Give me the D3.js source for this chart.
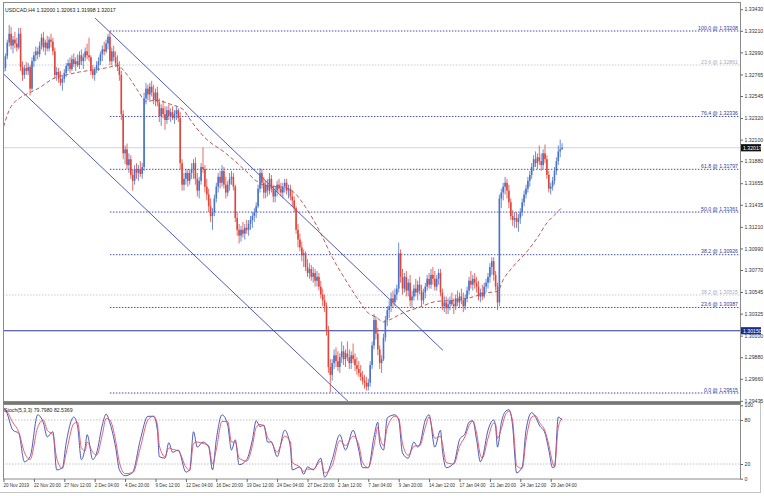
<!DOCTYPE html>
<html><head><meta charset="utf-8">
<script src="https://cdn.jsdelivr.net/npm/d3@7"></script>
<style>
body{margin:0;background:#fff}
svg{display:block}
text{font-family:"Liberation Sans",Arial,sans-serif}
</style>
</head><body>
<svg id="c" width="764" height="496"></svg>
<script>
// ---------- DATA ----------
const symbolTitle = "USDCAD,H4 1.32000 1.32063 1.31998 1.32017";
const stochTitle = "Stoch(5,3,3) 79.7980 82.5369";

// H4 candles [open, high, low, close], 20 Nov 2019 onward
const candlesA = [
[1.3279,1.3286,1.3275,1.3283],[1.3283,1.3298,1.3280,1.3295],[1.3295,1.3312,1.3292,1.3309],[1.3309,1.3327,1.3305,1.3318],
[1.3318,1.3325,1.3302,1.3306],[1.3306,1.3316,1.3298,1.3312],[1.3312,1.3320,1.3303,1.3308],[1.3308,1.3314,1.3300,1.3304],
[1.3304,1.3324,1.3302,1.3318],[1.3318,1.3324,1.3280,1.3284],[1.3284,1.3290,1.3270,1.3276],[1.3276,1.3286,1.3272,1.3283],
[1.3283,1.3289,1.3276,1.3280],[1.3280,1.3288,1.3276,1.3284],[1.3284,1.3286,1.3255,1.3262],[1.3262,1.3294,1.3260,1.3290],
[1.3290,1.3300,1.3284,1.3296],[1.3296,1.3305,1.3290,1.3300],[1.3300,1.3304,1.3292,1.3297],[1.3297,1.3310,1.3294,1.3306],
[1.3306,1.3318,1.3302,1.3314],[1.3314,1.3320,1.3300,1.3304],[1.3304,1.3312,1.3296,1.3309],[1.3309,1.3316,1.3300,1.3303],
[1.3303,1.3315,1.3300,1.3312],[1.3312,1.3318,1.3304,1.3310],[1.3310,1.3314,1.3296,1.3300],[1.3300,1.3304,1.3272,1.3276],
[1.3276,1.3284,1.3270,1.3279],[1.3279,1.3283,1.3268,1.3272],[1.3272,1.3280,1.3265,1.3268],[1.3268,1.3276,1.3260,1.3272],
[1.3272,1.3282,1.3268,1.3278],[1.3278,1.3288,1.3274,1.3285],[1.3285,1.3292,1.3280,1.3288],[1.3288,1.3294,1.3278,1.3282],
[1.3282,1.3296,1.3280,1.3292],[1.3292,1.3298,1.3284,1.3287],[1.3287,1.3294,1.3280,1.3290],[1.3290,1.3297,1.3284,1.3286],
[1.3286,1.3300,1.3282,1.3296],[1.3296,1.3302,1.3286,1.3290],[1.3290,1.3298,1.3282,1.3294],[1.3294,1.3304,1.3290,1.3300],
[1.3300,1.3308,1.3292,1.3296],[1.3296,1.3314,1.3290,1.3294],[1.3294,1.3296,1.3276,1.3280],[1.3280,1.3286,1.3272,1.3276],
[1.3276,1.3284,1.3270,1.3282],[1.3282,1.3290,1.3278,1.3286],[1.3286,1.3294,1.3280,1.3290],[1.3290,1.3300,1.3286,1.3297],
[1.3297,1.3306,1.3290,1.3302],[1.3302,1.3310,1.3296,1.3300],[1.3300,1.3312,1.3298,1.3308],[1.3308,1.3318,1.3302,1.3315],
[1.3315,1.3321,1.3286,1.3290],[1.3290,1.3304,1.3286,1.3300],[1.3300,1.3306,1.3290,1.3294],[1.3294,1.3300,1.3284,1.3288],
[1.3288,1.3296,1.3280,1.3284],[1.3284,1.3290,1.3270,1.3276],[1.3276,1.3280,1.3230,1.3236],[1.3236,1.3240,1.3190,1.3196],
[1.3196,1.3204,1.3185,1.3200],[1.3200,1.3206,1.3180,1.3184],[1.3184,1.3196,1.3176,1.3190],[1.3190,1.3194,1.3170,1.3174],
[1.3174,1.3180,1.3158,1.3168],[1.3168,1.3184,1.3164,1.3180],[1.3180,1.3186,1.3170,1.3176],[1.3176,1.3184,1.3168,1.3180],
[1.3180,1.3188,1.3172,1.3175],[1.3175,1.3186,1.3170,1.3182],[1.3182,1.3258,1.3178,1.3252],[1.3252,1.3268,1.3246,1.3262],
[1.3262,1.3266,1.3250,1.3256],[1.3256,1.3268,1.3250,1.3264],[1.3264,1.3270,1.3254,1.3258],[1.3258,1.3266,1.3246,1.3250],
[1.3250,1.3262,1.3244,1.3258],[1.3258,1.3264,1.3244,1.3248],[1.3248,1.3252,1.3228,1.3234],[1.3234,1.3246,1.3224,1.3242],
[1.3242,1.3250,1.3232,1.3236],[1.3236,1.3244,1.3220,1.3230],[1.3230,1.3244,1.3226,1.3240],[1.3240,1.3246,1.3230,1.3234],
[1.3234,1.3242,1.3228,1.3238],[1.3238,1.3244,1.3230,1.3232],[1.3232,1.3240,1.3226,1.3236],[1.3236,1.3244,1.3230,1.3240],
[1.3240,1.3242,1.3228,1.3232],[1.3232,1.3238,1.3180,1.3186],[1.3186,1.3190,1.3158,1.3164],[1.3164,1.3176,1.3158,1.3170],
[1.3170,1.3180,1.3164,1.3176],[1.3176,1.3180,1.3162,1.3168],[1.3168,1.3180,1.3164,1.3176]
];
const candlesB = [
[1.3176,1.3186,1.3170,1.3180],[1.3180,1.3190,1.3170,1.3186],[1.3186,1.3192,1.3164,1.3170],[1.3170,1.3176,1.3152,1.3158],
[1.3158,1.3172,1.3150,1.3168],[1.3168,1.3186,1.3164,1.3182],[1.3182,1.3202,1.3176,1.3180],[1.3180,1.3184,1.3156,1.3162],
[1.3162,1.3170,1.3148,1.3154],[1.3154,1.3160,1.3136,1.3142],[1.3142,1.3150,1.3126,1.3132],[1.3132,1.3140,1.3118,1.3136],
[1.3136,1.3154,1.3132,1.3150],[1.3150,1.3166,1.3146,1.3162],[1.3162,1.3176,1.3156,1.3172],[1.3172,1.3178,1.3160,1.3166],
[1.3166,1.3184,1.3162,1.3178],[1.3178,1.3182,1.3160,1.3164],[1.3164,1.3172,1.3150,1.3156],[1.3156,1.3168,1.3152,1.3164],
[1.3164,1.3176,1.3158,1.3170],[1.3170,1.3178,1.3164,1.3172],[1.3172,1.3176,1.3158,1.3162],[1.3162,1.3164,1.3126,1.3130],
[1.3130,1.3136,1.3112,1.3118],[1.3118,1.3124,1.3104,1.3112],[1.3112,1.3122,1.3106,1.3118],[1.3118,1.3126,1.3110,1.3114],
[1.3114,1.3124,1.3108,1.3120],[1.3120,1.3128,1.3114,1.3118],[1.3118,1.3128,1.3112,1.3124],[1.3124,1.3132,1.3118,1.3128],
[1.3128,1.3136,1.3120,1.3132],[1.3132,1.3140,1.3126,1.3136],[1.3136,1.3146,1.3130,1.3142],[1.3142,1.3164,1.3140,1.3160],
[1.3160,1.3181,1.3156,1.3176],[1.3176,1.3180,1.3160,1.3166],[1.3166,1.3172,1.3150,1.3156],[1.3156,1.3168,1.3150,1.3164],
[1.3164,1.3170,1.3152,1.3158],[1.3158,1.3176,1.3154,1.3170],[1.3170,1.3174,1.3156,1.3160],[1.3160,1.3164,1.3146,1.3152],
[1.3152,1.3162,1.3146,1.3158],[1.3158,1.3168,1.3152,1.3164],[1.3164,1.3170,1.3156,1.3160],[1.3160,1.3166,1.3152,1.3156],
[1.3156,1.3166,1.3150,1.3162],[1.3162,1.3170,1.3156,1.3166],[1.3166,1.3170,1.3154,1.3158],[1.3158,1.3164,1.3150,1.3160],
[1.3160,1.3164,1.3148,1.3152],[1.3152,1.3158,1.3142,1.3148],[1.3148,1.3152,1.3136,1.3140],[1.3140,1.3142,1.3114,1.3118],
[1.3118,1.3124,1.3100,1.3108],[1.3108,1.3114,1.3096,1.3100],[1.3100,1.3106,1.3086,1.3092],[1.3092,1.3098,1.3080,1.3094],
[1.3094,1.3096,1.3076,1.3080],[1.3080,1.3088,1.3070,1.3074],[1.3074,1.3084,1.3068,1.3078],[1.3078,1.3082,1.3066,1.3070],
[1.3070,1.3080,1.3064,1.3074],[1.3074,1.3078,1.3060,1.3066],[1.3066,1.3076,1.3060,1.3070],[1.3070,1.3074,1.3056,1.3060],
[1.3060,1.3066,1.3048,1.3052],[1.3052,1.3058,1.3040,1.3046],[1.3046,1.3052,1.3034,1.3040],[1.3040,1.3044,1.3010,1.3016],
[1.3016,1.3020,1.2972,1.2978],[1.2978,1.2986,1.2952,1.2970],[1.2970,1.2986,1.2964,1.2982],[1.2982,1.2996,1.2976,1.2990],
[1.2990,1.2998,1.2978,1.2984],[1.2984,1.2994,1.2974,1.2978],[1.2978,1.2992,1.2972,1.2988],[1.2988,1.3004,1.2982,1.2994],
[1.2994,1.3000,1.2980,1.2986],[1.2986,1.2996,1.2978,1.2992],[1.2992,1.3004,1.2984,1.2988],[1.2988,1.2996,1.2976,1.2982],
[1.2982,1.2994,1.2976,1.2990],[1.2990,1.3002,1.2982,1.2986],[1.2986,1.2992,1.2974,1.2980],[1.2980,1.2988,1.2970,1.2976],
[1.2976,1.2984,1.2968,1.2972],[1.2972,1.2980,1.2964,1.2968],[1.2968,1.2974,1.2960,1.2964],[1.2964,1.2970,1.2956,1.2962],
[1.2962,1.2968,1.2954,1.2958],[1.2958,1.2966,1.2954,1.2962],[1.2962,1.2984,1.2958,1.2980],[1.2980,1.3004,1.2976,1.3000],
[1.3000,1.3032,1.2996,1.3026],[1.3026,1.3030,1.3006,1.3012]
];
const candlesC = [
[1.3012,1.3018,1.2990,1.2996],[1.2996,1.3000,1.2976,1.2982],[1.2982,1.2990,1.2972,1.2986],[1.2986,1.3012,1.2984,1.3008],
[1.3008,1.3030,1.3004,1.3026],[1.3026,1.3040,1.3020,1.3036],[1.3036,1.3046,1.3028,1.3040],[1.3040,1.3054,1.3034,1.3048],
[1.3048,1.3056,1.3038,1.3044],[1.3044,1.3058,1.3040,1.3052],[1.3052,1.3062,1.3046,1.3058],[1.3058,1.3105,1.3054,1.3094],
[1.3094,1.3098,1.3064,1.3070],[1.3070,1.3078,1.3052,1.3058],[1.3058,1.3074,1.3054,1.3070],[1.3070,1.3076,1.3050,1.3056],
[1.3056,1.3068,1.3050,1.3064],[1.3064,1.3072,1.3040,1.3046],[1.3046,1.3056,1.3038,1.3050],[1.3050,1.3062,1.3046,1.3058],
[1.3058,1.3068,1.3050,1.3054],[1.3054,1.3066,1.3046,1.3062],[1.3062,1.3070,1.3052,1.3056],[1.3056,1.3062,1.3040,1.3046],
[1.3046,1.3058,1.3042,1.3054],[1.3054,1.3064,1.3048,1.3060],[1.3060,1.3072,1.3056,1.3068],[1.3068,1.3074,1.3058,1.3062],
[1.3062,1.3078,1.3058,1.3072],[1.3072,1.3080,1.3062,1.3068],[1.3068,1.3076,1.3056,1.3060],[1.3060,1.3072,1.3056,1.3068],
[1.3068,1.3078,1.3062,1.3074],[1.3074,1.3078,1.3050,1.3054],[1.3054,1.3058,1.3036,1.3040],[1.3040,1.3050,1.3034,1.3044],
[1.3044,1.3050,1.3032,1.3038],[1.3038,1.3048,1.3032,1.3042],[1.3042,1.3050,1.3036,1.3046],[1.3046,1.3054,1.3040,1.3042],
[1.3042,1.3048,1.3032,1.3040],[1.3040,1.3052,1.3036,1.3048],[1.3048,1.3056,1.3040,1.3044],[1.3044,1.3054,1.3038,1.3050],
[1.3050,1.3058,1.3042,1.3046],[1.3046,1.3054,1.3034,1.3040],[1.3040,1.3052,1.3036,1.3048],[1.3048,1.3060,1.3044,1.3056],
[1.3056,1.3070,1.3052,1.3066],[1.3066,1.3076,1.3058,1.3062],[1.3062,1.3072,1.3056,1.3068],[1.3068,1.3074,1.3058,1.3064],
[1.3064,1.3070,1.3054,1.3060],[1.3060,1.3066,1.3046,1.3050],[1.3050,1.3058,1.3044,1.3054],[1.3054,1.3062,1.3046,1.3050],
[1.3050,1.3064,1.3048,1.3060],[1.3060,1.3068,1.3054,1.3064],[1.3064,1.3074,1.3058,1.3070],[1.3070,1.3084,1.3064,1.3080],
[1.3080,1.3090,1.3072,1.3086],[1.3086,1.3090,1.3066,1.3072],[1.3072,1.3076,1.3056,1.3060],[1.3060,1.3064,1.3036,1.3044],
[1.3044,1.3154,1.3040,1.3150],[1.3150,1.3160,1.3140,1.3156],[1.3156,1.3166,1.3148,1.3162],[1.3162,1.3172,1.3154,1.3166],
[1.3166,1.3170,1.3150,1.3158],[1.3158,1.3164,1.3140,1.3146],[1.3146,1.3150,1.3128,1.3132],[1.3132,1.3138,1.3122,1.3128],
[1.3128,1.3136,1.3120,1.3130],[1.3130,1.3136,1.3120,1.3126],[1.3126,1.3134,1.3116,1.3130],[1.3130,1.3140,1.3124,1.3136],
[1.3136,1.3150,1.3132,1.3146],[1.3146,1.3158,1.3142,1.3154],[1.3154,1.3164,1.3150,1.3160],[1.3160,1.3172,1.3156,1.3168],
[1.3168,1.3178,1.3162,1.3174],[1.3174,1.3186,1.3170,1.3182],[1.3182,1.3194,1.3178,1.3190],[1.3190,1.3198,1.3182,1.3186],
[1.3186,1.3196,1.3180,1.3192],[1.3192,1.3204,1.3184,1.3188],[1.3188,1.3196,1.3178,1.3184],[1.3184,1.3200,1.3180,1.3196],
[1.3196,1.3205,1.3186,1.3190],[1.3190,1.3194,1.3170,1.3174],[1.3174,1.3178,1.3156,1.3160],[1.3160,1.3166,1.3154,1.3162],
[1.3162,1.3172,1.3158,1.3168],[1.3168,1.3182,1.3164,1.3178],[1.3178,1.3192,1.3174,1.3188],[1.3188,1.3204,1.3184,1.3198],
[1.3198,1.3210,1.3192,1.3200],[1.32000,1.32063,1.31998,1.32017]
];

// moving average (dashed) sampled at bar indices
const maBars = [0,3,9,14,19,25,28,33,40,47,56,60,63,67,71,75,80,88,95,97,106,117,127,133,138,148,153,159,166,173,180,187,192,196,200,203,210,219,228,237,246,255,260,263,268,276,281,286,291,294];
const maVals = [1.3223,1.3240,1.3253,1.3258,1.3263,1.3271,1.3274,1.3276,1.3279,1.3281,1.3284,1.3286,1.3281,1.3271,1.3259,1.3249,1.3250,1.3246,1.3240,1.3234,1.3212,1.3196,1.3179,1.3168,1.3163,1.3161,1.3156,1.3141,1.3118,1.3090,1.3067,1.3046,1.3033,1.3029,1.3024,1.3026,1.3033,1.3039,1.3045,1.3046,1.3049,1.3054,1.3055,1.3067,1.3080,1.3097,1.3110,1.3125,1.3135,1.3141];

// stochastic sampled at bar indices
const stochBars = [0,1,5,8,11,14,18,21,23,26,28,31,33,37,39,41,43,44,47,49,52,54,56,59,61,64,68,72,76,79,81,82,85,87,89,92,96,98,100,102,105,108,110,112,115,118,120,122,124,128,131,133,135,137,139,141,144,148,151,152,156,158,160,163,167,169,173,177,180,184,187,189,192,195,197,198,200,202,206,208,210,213,216,218,219,222,224,227,230,231,233,237,240,243,245,247,249,251,252,255,258,259,260,262,264,266,268,269,270,273,275,278,280,282,285,287,289,290,292,294];
const stochK = [96,94,66,62,23,30,87,76,57,64,12,15,49,84,71,26,43,60,26,35,73,88,76,43,12,4,9,53,85,85,66,30,28,49,36,39,9,12,64,43,50,43,12,53,87,73,39,53,19,26,53,79,71,73,50,50,30,66,43,12,16,6,16,12,28,2,26,60,39,66,39,15,15,57,77,49,39,83,87,80,35,28,50,43,46,80,87,43,66,39,15,21,53,62,77,79,53,23,28,66,80,71,43,76,91,94,71,35,8,16,66,90,84,73,62,39,15,16,84,79.8];
const stochD = [92,93,76,64,36,26,70,80,66,60,28,14,35,75,77,42,38,50,36,32,60,82,80,52,22,7,8,42,80,85,74,45,30,42,40,38,16,11,48,50,48,45,20,40,78,78,50,50,28,24,45,70,74,72,56,50,36,58,50,22,16,10,13,13,24,8,18,52,45,58,46,22,15,45,70,58,45,70,85,82,48,32,44,45,45,70,84,55,58,48,22,20,44,58,72,78,62,32,28,55,76,74,55,68,86,92,78,48,18,14,52,84,86,77,65,46,22,16,70,82.5];
const stochLevels = [80,20];
const stochTicks = [100,80,20,0];

// price axis labels
const priceTicks = [1.33430,1.33210,1.32990,1.32765,1.32545,1.32320,1.32100,1.31880,1.31655,1.31435,1.31210,1.30990,1.30770,1.30545,1.30325,1.30100,1.29880,1.29660,1.29435];
// time axis labels (every 16 bars)
const timeLabels = ["20 Nov 2019","22 Nov 20:00","27 Nov 12:00","2 Dec 04:00","4 Dec 20:00","9 Dec 12:00","12 Dec 04:00","16 Dec 20:00","19 Dec 12:00","24 Dec 04:00","27 Dec 20:00","2 Jan 12:00","7 Jan 04:00","9 Jan 20:00","14 Jan 12:00","17 Jan 04:00","21 Jan 20:00","24 Jan 12:00","29 Jan 04:00"];
const timeLabelStep = 16;

// Fibonacci retracement (from the bar-56 high down to the low)
const fibStartBar = 56;
const fibLevels = [1.33208,1.32336,1.31797,1.31361,1.30926,1.30387,1.29515];
const fibLabels = ["100.0 @ 1.33208","76.4 @ 1.32336","61.8 @ 1.31797","50.0 @ 1.31361","38.2 @ 1.30926","23.6 @ 1.30387","0.0 @ 1.29515"];
const greyFibLevels = [1.32861,1.30515];
const greyFibLabels = ["23.6 @ 1.32861","38.2 @ 1.30515"];
const supportLevel = 1.30150;
const lastPrice = 1.32017;

// descending channel [bar, price]
const channelUpper = [[48.2,1.3334],[231.3,1.2995]];
const channelLower = [[0,1.3277],[182.4,1.2941]];

// ---------- DRAW ----------
const candles = candlesA.concat(candlesB, candlesC).map((d,i)=>({i,o:d[0],h:d[1],l:d[2],c:d[3]}));
const svg = d3.select("#c");
const L = 3, R = 741, T = 2, B = 402, ST = 404.5, SB = 479;
const bull = "#4a72c8", bear = "#e0453a", fibCol = "#2e3c9e";
const fs = 5.2, fsTime = 4.5;

const x = d3.scaleLinear().domain([0, candles.length-1]).range([3.5, 3.5 + 1.9*(candles.length-1)]);
const y = d3.scaleLinear().domain([1.29515, 1.33208]).range([393, 31]);
const ys = d3.scaleLinear().domain([0,100]).range([478.7, 405.3]);

svg.append("rect").attr("width",764).attr("height",496).attr("fill","#fff");
const defs = svg.append("defs");
defs.append("clipPath").attr("id","mainClip").append("rect").attr("x",L).attr("y",T).attr("width",R-L).attr("height",B-T);
defs.append("clipPath").attr("id","stClip").append("rect").attr("x",L).attr("y",ST).attr("width",R-L).attr("height",SB-ST);

const main = svg.append("g").attr("clip-path","url(#mainClip)");

greyFibLevels.forEach((lv,k)=>{
  main.append("line").attr("x1",L).attr("x2",R).attr("y1",y(lv)).attr("y2",y(lv))
    .attr("stroke","#b9bccb").attr("stroke-width",0.8).attr("stroke-dasharray","1.5,1.5");
  main.append("text").attr("x",R-3).attr("y",y(lv)-1.2).attr("text-anchor","end")
    .attr("font-size",fs).attr("fill","#a8acbc").text(greyFibLabels[k]);
});
main.append("line").attr("x1",L).attr("x2",R).attr("y1",y(lastPrice)).attr("y2",y(lastPrice))
  .attr("stroke","#c6d6e8").attr("stroke-width",1);
fibLevels.forEach((lv,k)=>{
  main.append("line").attr("x1",x(fibStartBar)).attr("x2",R).attr("y1",y(lv)).attr("y2",y(lv))
    .attr("stroke",fibCol).attr("stroke-width",0.9).attr("stroke-dasharray","1.5,1.5");
  main.append("text").attr("x",R-3).attr("y",y(lv)-1.2).attr("text-anchor","end")
    .attr("font-size",fs).attr("fill",fibCol).text(fibLabels[k]);
});
main.append("line").attr("x1",L).attr("x2",R).attr("y1",y(supportLevel)).attr("y2",y(supportLevel))
  .attr("stroke","#2a3592").attr("stroke-width",1.2);

[channelUpper, channelLower].forEach(seg=>{
  main.append("line").attr("x1",x(seg[0][0])).attr("y1",y(seg[0][1]))
    .attr("x2",x(seg[1][0])).attr("y2",y(seg[1][1]))
    .attr("stroke","#3d48a6").attr("stroke-width",0.9);
});

const maLine = d3.line().x(d=>x(d[0])).y(d=>y(d[1])).curve(d3.curveMonotoneX);
main.append("path").datum(maBars.map((b,k)=>[b,maVals[k]]))
  .attr("d",maLine).attr("fill","none").attr("stroke","#b0473f").attr("stroke-width",0.9)
  .attr("stroke-dasharray","4,2.5");

const cg = main.append("g");
cg.selectAll("line.w").data(candles).join("line")
  .attr("x1",d=>x(d.i)).attr("x2",d=>x(d.i)).attr("y1",d=>y(d.h)).attr("y2",d=>y(d.l))
  .attr("stroke",d=>d.c>=d.o?bull:bear).attr("stroke-width",0.8);
cg.selectAll("rect.b").data(candles).join("rect")
  .attr("x",d=>x(d.i)-0.8).attr("width",1.6)
  .attr("y",d=>Math.min(y(d.o),y(d.c)))
  .attr("height",d=>Math.max(0.7,Math.abs(y(d.o)-y(d.c))))
  .attr("fill",d=>d.c>=d.o?bull:bear);

svg.append("text").attr("x",5).attr("y",12).attr("font-size",fs).attr("fill","#222").text(symbolTitle);

const st = svg.append("g").attr("clip-path","url(#stClip)");
stochLevels.forEach(lv=>{
  st.append("line").attr("x1",L).attr("x2",R).attr("y1",ys(lv)).attr("y2",ys(lv))
    .attr("stroke","#b4b4b4").attr("stroke-width",0.8).attr("stroke-dasharray","1.5,1.5");
});
const sLine = d3.line().x(d=>x(d[0])).y(d=>ys(d[1])).curve(d3.curveMonotoneX);
st.append("path").datum(stochBars.map((b,k)=>[b,stochK[k]])).attr("d",sLine)
  .attr("fill","none").attr("stroke","#3b49ad").attr("stroke-width",0.9);
st.append("path").datum(stochBars.map((b,k)=>[b,stochD[k]])).attr("d",sLine)
  .attr("fill","none").attr("stroke","#e0506a").attr("stroke-width",0.9);
svg.append("text").attr("x",4).attr("y",412).attr("font-size",fs).attr("fill","#222").text(stochTitle);

svg.append("rect").attr("x",L+0.5).attr("y",T+0.5).attr("width",R-L-1).attr("height",B-T-1)
  .attr("fill","none").attr("stroke","#8a8a8a").attr("stroke-width",1);
svg.append("rect").attr("x",L+0.5).attr("y",ST).attr("width",R-L-1).attr("height",SB-ST)
  .attr("fill","none").attr("stroke","#8a8a8a").attr("stroke-width",1);
svg.append("line").attr("x1",L).attr("x2",R).attr("y1",403).attr("y2",403).attr("stroke","#777").attr("stroke-width",2);
svg.append("line").attr("x1",760.5).attr("x2",760.5).attr("y1",400).attr("y2",492).attr("stroke","#c4c4c4");
svg.append("line").attr("x1",0).attr("x2",761).attr("y1",492.5).attr("y2",492.5).attr("stroke","#c4c4c4");

const pa = svg.append("g").attr("transform",`translate(${R-0.5},0)`)
  .call(d3.axisRight(y).tickValues(priceTicks).tickFormat(d3.format(".5f")).tickSize(2.5).tickPadding(1.5));
pa.select(".domain").remove();
pa.selectAll("text").attr("font-size",fs).attr("fill","#333").attr("font-family","Liberation Sans, Arial, sans-serif");
pa.selectAll("line").attr("stroke","#666");

function priceBox(v, fill){
  const g = svg.append("g");
  g.append("rect").attr("x",R).attr("y",y(v)-3.6).attr("width",20).attr("height",7.2).attr("fill",fill);
  g.append("text").attr("x",R+2).attr("y",y(v)+1.9).attr("font-size",fs).attr("fill","#fff").text(d3.format(".5f")(v));
}
priceBox(lastPrice, "#111");
priceBox(supportLevel, "#1e2b8c");

const sa = svg.append("g").attr("transform",`translate(${R-0.5},0)`)
  .call(d3.axisRight(ys).tickValues(stochTicks).tickSize(2.5).tickPadding(1.5));
sa.select(".domain").remove();
sa.selectAll("text").attr("font-size",fs).attr("fill","#333").attr("font-family","Liberation Sans, Arial, sans-serif");
sa.selectAll("line").attr("stroke","#666");

const tickBars = timeLabels.map((t,k)=>k*timeLabelStep);
const ta = svg.append("g").attr("transform",`translate(0,${SB})`)
  .call(d3.axisBottom(x).tickValues(tickBars).tickFormat((d,k)=>timeLabels[k]).tickSize(3).tickPadding(2));
ta.select(".domain").remove();
ta.selectAll("line").attr("stroke","#666");
ta.selectAll("text").attr("font-size",fsTime).attr("fill","#333").attr("text-anchor","start")
  .attr("dx",-0.5).attr("font-family","Liberation Sans, Arial, sans-serif");
</script>
</body></html>
